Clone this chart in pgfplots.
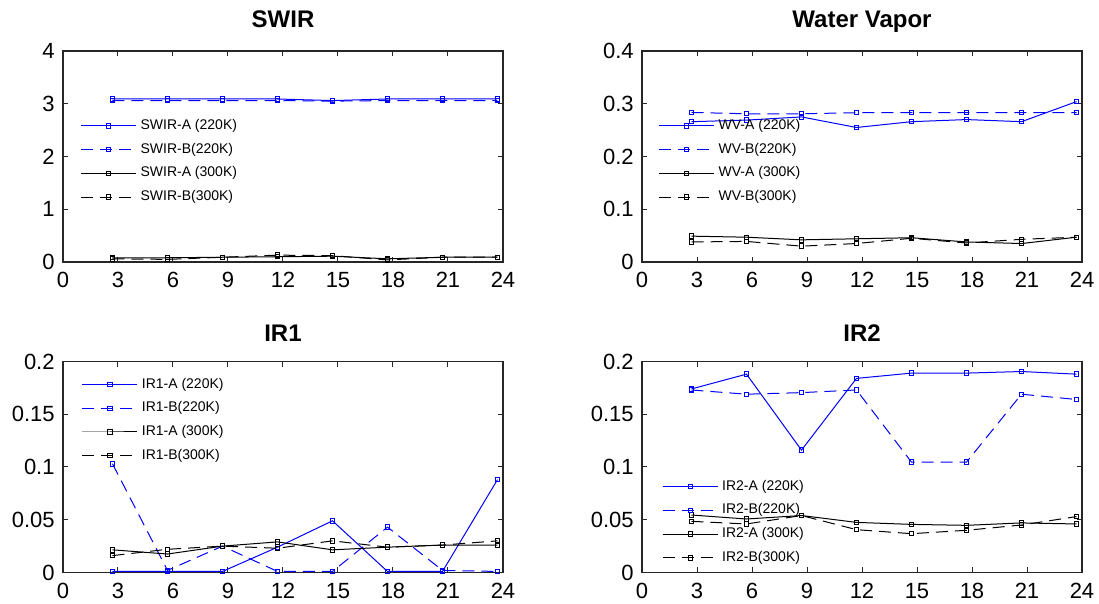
\documentclass[border=0pt]{standalone}
\usepackage{fontspec}
\setmainfont{Liberation Sans}
\usepackage{pgfplots}
\pgfplotsset{compat=1.18}
\definecolor{mblue}{RGB}{0,0,255}
\pgfplotsset{
  panel/.style={
    width=220pt, height=105.5pt, scale only axis,
    xmin=0, xmax=24, xtick={0,3,...,24}, ymin=0,
    tick align=inside, major tick length=2.5pt,
    axis line style={black!85, line width=0.6pt},
    tick style={black!85, line width=0.5pt},
    tick label style={font=\fontsize{11}{12}\selectfont, inner sep=0pt},
    xticklabel style={yshift=-5pt},
    yticklabel style={xshift=-4pt},
    /pgf/number format/assume math mode=true,
    scaled y ticks=false,
    title style={font=\fontsize{12}{14}\selectfont\bfseries, anchor=base, at={(0.5,1)}, inner sep=0pt},
    legend style={draw=none, fill=none, font=\fontsize{7}{8}\selectfont, anchor=north west,
      inner sep=0pt, row sep=1.3pt, column sep=0pt},
    legend cell align=left,
    legend image code/.code={\draw[mark repeat=2,mark phase=2] plot coordinates {(0pt,0pt) (13.75pt,0pt) (27.5pt,0pt)};},
    every axis plot/.append style={line width=0.5pt, mark=square, mark size=1.1pt, mark options={solid}},
  },
  dsh/.style={dash pattern=on 6pt off 3.5pt},
}

\begin{document}
\begin{tikzpicture}
\useasboundingbox (0,0) rectangle (549.5pt,-302pt);

% SWIR
\begin{axis}[panel, at={(31.5pt,-131pt)}, ymax=4, ytick={0,1,2,3,4},
  title={SWIR}, title style={yshift=5.5pt},
  legend style={at={(0.039,0.697)}}]
\addplot[mblue] coordinates {(2.7,3.09) (5.7,3.09) (8.7,3.09) (11.7,3.09) (14.7,3.06) (17.7,3.09) (20.7,3.09) (23.7,3.09)};
\addplot[mblue, dsh] coordinates {(2.7,3.06) (5.7,3.06) (8.7,3.06) (11.7,3.06) (14.7,3.05) (17.7,3.06) (20.7,3.06) (23.7,3.06)};
\addplot[black] coordinates {(2.7,0.08) (5.7,0.08) (8.7,0.09) (11.7,0.10) (14.7,0.11) (17.7,0.06) (20.7,0.09) (23.7,0.09)};
\addplot[black, dsh] coordinates {(2.7,0.06) (5.7,0.05) (8.7,0.09) (11.7,0.13) (14.7,0.12) (17.7,0.04) (20.7,0.09) (23.7,0.09)};
\legend{SWIR-A (220K), SWIR-B(220K), SWIR-A (300K), SWIR-B(300K)}
\end{axis}

% Water Vapor
\begin{axis}[panel, at={(321pt,-131pt)}, ymax=0.4, ytick={0,0.1,0.2,0.3,0.4},
  yticklabels={0,0.1,0.2,0.3,0.4},
  title={Water Vapor}, title style={yshift=5.5pt},
  legend style={at={(0.037,0.697)}}]
\addplot[mblue] coordinates {(2.7,0.266) (5.7,0.269) (8.7,0.275) (11.7,0.255) (14.7,0.266) (17.7,0.270) (20.7,0.266) (23.7,0.304)};
\addplot[mblue, dsh] coordinates {(2.7,0.2835) (5.7,0.281) (8.7,0.281) (11.7,0.283) (14.7,0.283) (17.7,0.283) (20.7,0.283) (23.7,0.283)};
\addplot[black] coordinates {(2.7,0.049) (5.7,0.047) (8.7,0.042) (11.7,0.044) (14.7,0.046) (17.7,0.038) (20.7,0.035) (23.7,0.047)};
\addplot[black, dsh] coordinates {(2.7,0.038) (5.7,0.039) (8.7,0.030) (11.7,0.035) (14.7,0.045) (17.7,0.036) (20.7,0.043) (23.7,0.047)};
\legend{WV-A (220K), WV-B(220K), WV-A (300K), WV-B(300K)}
\end{axis}

% IR1
\begin{axis}[panel, at={(31.5pt,-286.25pt)}, ymax=0.2, ytick={0,0.05,0.1,0.15,0.2},
  yticklabels={0,0.05,0.1,0.15,0.2},
  title={IR1}, title style={yshift=4pt},
  legend style={at={(0.042,0.943)}}]
\addplot[mblue] coordinates {(2.7,0.001) (5.7,0.001) (8.7,0.001) (11.7,0.024) (14.7,0.049) (17.7,0.001) (20.7,0.001) (23.7,0.088)};
\addplot[mblue, dsh] coordinates {(2.7,0.103) (5.7,0.002) (8.7,0.025) (11.7,0.001) (14.7,0.001) (17.7,0.043) (20.7,0.002) (23.7,0.001)};
\addplot[black] coordinates {(2.7,0.0215) (5.7,0.0175) (8.7,0.025) (11.7,0.029) (14.7,0.0215) (17.7,0.024) (20.7,0.026) (23.7,0.026)};
\addplot[black, dsh] coordinates {(2.7,0.016) (5.7,0.022) (8.7,0.025) (11.7,0.023) (14.7,0.030) (17.7,0.024) (20.7,0.026) (23.7,0.030)};
\legend{IR1-A (220K), IR1-B(220K), IR1-A (300K), IR1-B(300K)}
\end{axis}

% IR2
\begin{axis}[panel, at={(321pt,-286.25pt)}, ymax=0.2, ytick={0,0.05,0.1,0.15,0.2},
  yticklabels={0,0.05,0.1,0.15,0.2},
  title={IR2}, title style={yshift=4pt},
  legend style={at={(0.045,0.459)}}]
\addplot[mblue] coordinates {(2.7,0.174) (5.7,0.188) (8.7,0.116) (11.7,0.184) (14.7,0.189) (17.7,0.189) (20.7,0.1905) (23.7,0.188)};
\addplot[mblue, dsh] coordinates {(2.7,0.173) (5.7,0.169) (8.7,0.1705) (11.7,0.173) (14.7,0.1046) (17.7,0.1046) (20.7,0.169) (23.7,0.164)};
\addplot[black] coordinates {(2.7,0.0545) (5.7,0.0507) (8.7,0.054) (11.7,0.0475) (14.7,0.0456) (17.7,0.0447) (20.7,0.047) (23.7,0.046)};
\addplot[black, dsh] coordinates {(2.7,0.0485) (5.7,0.046) (8.7,0.054) (11.7,0.0406) (14.7,0.0368) (17.7,0.040) (20.7,0.045) (23.7,0.053)};
\legend{IR2-A (220K), IR2-B(220K), IR2-A (300K), IR2-B(300K)}
\end{axis}
\end{tikzpicture}
\end{document}
